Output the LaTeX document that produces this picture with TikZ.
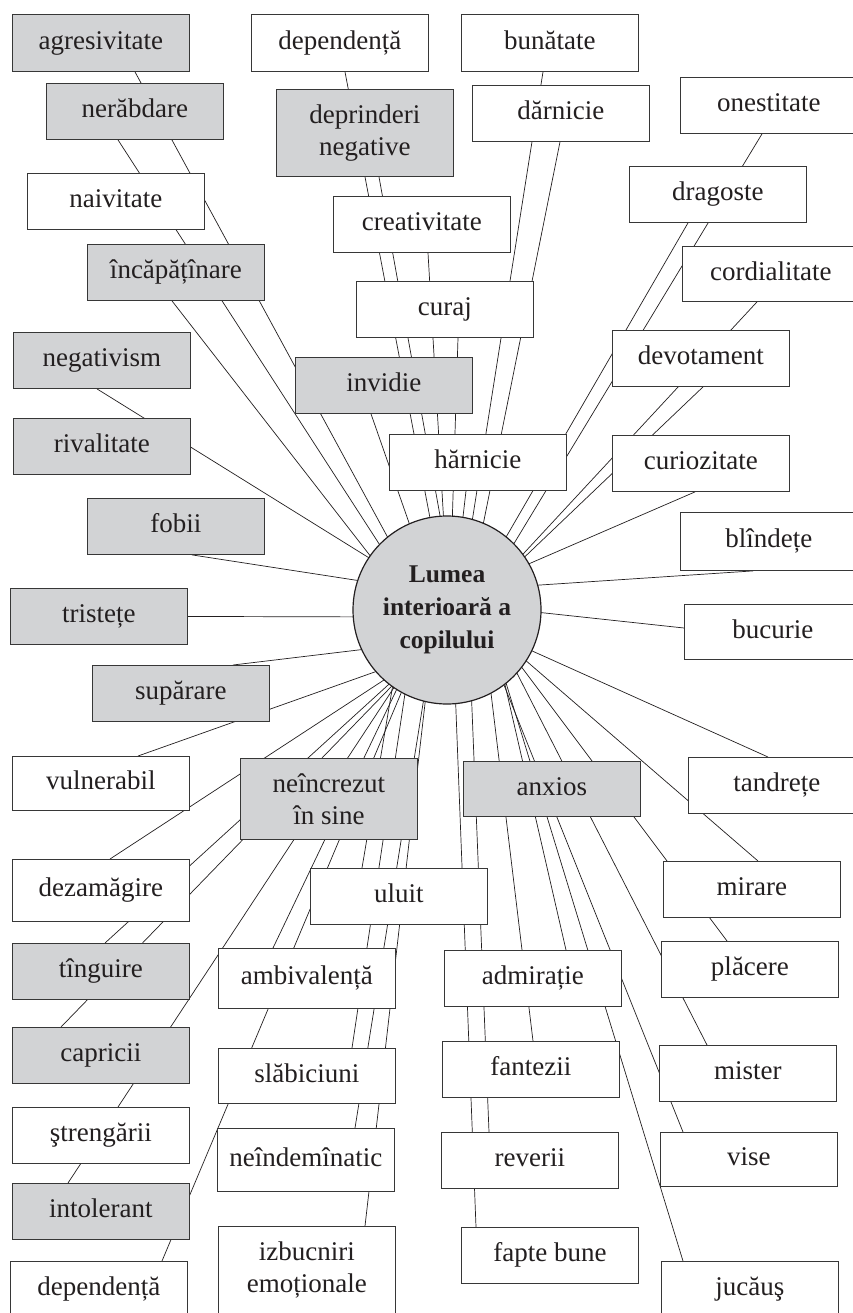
\documentclass[tikz,border=0pt]{standalone}
\usepackage{fontspec}
\setmainfont{Liberation Serif}
\usetikzlibrary{backgrounds}
\definecolor{boxgray}{RGB}{210,211,213}
\definecolor{ink}{RGB}{35,31,32}
\definecolor{edge}{RGB}{55,55,55}
\begin{document}
\begin{tikzpicture}[x=1pt,y=-1pt,
  basebox/.style={draw=edge, line width=0.9pt, anchor=north west,
    minimum width=177pt, minimum height=56pt, inner sep=0pt, text=ink,
    font=\fontsize{27}{32}\selectfont},
  wbox/.style={basebox, fill=white, text height=18.4pt, text depth=6pt},
  gbox/.style={basebox, fill=boxgray, text height=18.4pt, text depth=6pt},
  wtwo/.style={basebox, fill=white, align=center},
  gtwo/.style={basebox, fill=boxgray, align=center},
  spoke/.style={draw=ink, line width=0.7pt}]
\useasboundingbox (0,0) rectangle (853,1313);
\clip (0,0) rectangle (853,1313);

% central circle
\node[circle, fill=boxgray, draw=ink, line width=1.2pt, minimum size=188pt,
  inner sep=0pt, align=center, text=ink,
  font=\bfseries\fontsize{25.5}{33}\selectfont] (hub) at (447,610)
  {Lumea\\interioară a\\copilului};

% left column
\node[gbox, minimum height=57pt] (agr) at (12,14) {agresivitate};
\node[gbox] (ner) at (46,83) {nerăbdare};
\node[wbox] (naiv) at (27,173) {naivitate};
\node[gbox] (inc) at (87,244) {încăpățînare};
\node[gbox] (negv) at (13,332) {negativism};
\node[gbox] (rival) at (13,418) {rivalitate};
\node[gbox] (fobii) at (87,498) {fobii};
\node[gbox] (trist) at (10,588) {tristețe};
\node[gbox] (supar) at (92,665) {supărare};
\node[wbox, minimum height=54pt] (vuln) at (12,756) {vulnerabil};
\node[wbox, minimum height=62pt] (dezam) at (12,859) {dezamăgire};
\node[gbox] (tingu) at (12,943) {tînguire};
\node[gbox] (capr) at (12,1027) {capricii};
\node[wbox] (streng) at (12,1107) {ştrengării};
\node[gbox] (intol) at (12,1183) {intolerant};
\node[wbox] (depB) at (10,1261) {dependență};

% middle
\node[wbox, minimum height=57pt] (depT) at (251,14) {dependență};
\node[gtwo, minimum height=87pt] (depr) at (276,89) {deprinderi\\negative};
\node[wbox] (creat) at (333,196) {creativitate};
\node[wbox] (curaj) at (356,281) {curaj};
\node[gbox] (invid) at (295,357) {invidie};
\node[wbox] (harn) at (389,434) {hărnicie};
\node[gtwo, minimum height=81pt] (neincr) at (240,758) {neîncrezut\\în sine};
\node[wbox] (uluit) at (310,868) {uluit};
\node[wbox, minimum height=60pt] (ambiv) at (218,948) {ambivalență};
\node[wbox, minimum height=55pt] (slab) at (218,1048) {slăbiciuni};
\node[wbox, minimum height=63pt] (neind) at (217,1128) {neîndemînatic};
\node[wtwo, minimum height=88pt] (izbuc) at (218,1226) {izbucniri\\emoționale};
\node[gbox, minimum height=55pt] (anx) at (463,761) {anxios};
\node[wbox] (admir) at (444,950) {admirație};
\node[wbox] (fant) at (442,1041) {fantezii};
\node[wbox] (rever) at (441,1132) {reverii};
\node[wbox] (fapte) at (461,1227) {fapte bune};

% right side
\node[wbox, minimum height=57pt] (bunat) at (461,14) {bunătate};
\node[wbox] (darn) at (472,85) {dărnicie};
\node[wbox] (onest) at (680,77) {onestitate};
\node[wbox] (drag) at (629,166) {dragoste};
\node[wbox, minimum height=55pt] (cord) at (682,246) {cordialitate};
\node[wbox] (devot) at (612,330) {devotament};
\node[wbox] (curio) at (612,435) {curiozitate};
\node[wbox, minimum height=58pt] (blind) at (680,512) {blîndețe};
\node[wbox, minimum height=55pt] (bucur) at (684,604) {bucurie};
\node[wbox] (tandr) at (688,757) {tandrețe};
\node[wbox] (mirare) at (663,861) {mirare};
\node[wbox] (placere) at (661,941) {plăcere};
\node[wbox] (mister) at (659,1045) {mister};
\node[wbox, minimum height=54pt] (vise) at (660,1132) {vise};
\node[wbox] (jucaus) at (661,1261) {jucăuş};

% spokes, drawn behind the boxes and the circle
\begin{scope}[on background layer]
\fill[white] (0,0) rectangle (853,1313);
% upper left
\draw[spoke] ([shift={(123,0)}]agr.south west) -- ([shift={(-47,-50)}]hub.center);
\draw[spoke] ([shift={(72,0)}]ner.south west) -- ([shift={(-51,-40)}]hub.center);
\draw[spoke] ([shift={(85,0)}]inc.south west) -- ([shift={(-58,-30)}]hub.center);
\draw[spoke] ([shift={(84,0)}]negv.south west) -- ([shift={(-52,-36)}]hub.center);
\draw[spoke] ([shift={(105,0)}]fobii.south west) -- ([shift={(-47,-23)}]hub.center);
\draw[spoke] (trist.east) -- ([shift={(-47,7)}]hub.center);
\draw[spoke] ([shift={(76,0)}]invid.south west) -- ([shift={(-25,-50)}]hub.center);
% upper middle
\draw[spoke] ([shift={(94,0)}]depT.south west) -- ([shift={(-9,-50)}]hub.center);
\draw[spoke] ([shift={(103,0)}]depr.south west) -- ([shift={(1,-50)}]hub.center);
\draw[spoke] ([shift={(95,0)}]creat.south west) -- ([shift={(-1,-50)}]hub.center);
\draw[spoke] ([shift={(102,0)}]curaj.south west) -- ([shift={(4,-50)}]hub.center);
\draw[spoke] ([shift={(77,0)}]harn.south west) -- ([shift={(11,-50)}]hub.center);
\draw[spoke] ([shift={(82,0)}]bunat.south west) -- ([shift={(19,-50)}]hub.center);
\draw[spoke] ([shift={(88,0)}]darn.south west) -- ([shift={(29,-50)}]hub.center);
% upper right
\draw[spoke] ([shift={(82,0)}]onest.south west) -- ([shift={(57,-50)}]hub.center);
\draw[spoke] ([shift={(59,0)}]drag.south west) -- ([shift={(40,-40)}]hub.center);
\draw[spoke] ([shift={(75,0)}]cord.south west) -- ([shift={(52,-30)}]hub.center);
\draw[spoke] ([shift={(91,0)}]devot.south west) -- ([shift={(43,-20)}]hub.center);
\draw[spoke] ([shift={(83,0)}]curio.south west) -- ([shift={(33,-25)}]hub.center);
\draw[spoke] ([shift={(73,0)}]blind.south west) -- ([shift={(33,-21)}]hub.center);
\draw[spoke] ([shift={(0,24)}]bucur.north west) -- ([shift={(33,-4)}]hub.center);
% lower left
\draw[spoke] ([shift={(141,0)}]supar.north west) -- ([shift={(-47,35)}]hub.center);
\draw[spoke] ([shift={(126,0)}]vuln.north west) -- ([shift={(-47,53)}]hub.center);
\draw[spoke] ([shift={(98,0)}]dezam.north west) -- ([shift={(-37,53)}]hub.center);
\draw[spoke] ([shift={(93,0)}]tingu.north west) -- ([shift={(-37,55)}]hub.center);
\draw[spoke] ([shift={(49,0)}]capr.north west) -- ([shift={(-27,47)}]hub.center);
\draw[spoke] ([shift={(56,0)}]intol.north west) -- ([shift={(-27,38)}]hub.center);
\draw[spoke] ([shift={(152,0)}]depB.north west) -- ([shift={(-32,50)}]hub.center);
% lower middle
\draw[spoke] ([shift={(147,0)}]izbuc.north west) -- ([shift={(-17,50)}]hub.center);
\draw[spoke] ([shift={(138,0)}]neind.north west) -- ([shift={(-17,50)}]hub.center);
\draw[spoke] ([shift={(134,0)}]slab.north west) -- ([shift={(-37,50)}]hub.center);
\draw[spoke] ([shift={(55,0)}]ambiv.north west) -- ([shift={(-41,60)}]hub.center);
\draw[spoke] ([shift={(52,0)}]uluit.north west) -- ([shift={(-50,50)}]hub.center);
\draw[spoke] ([shift={(15,0)}]fapte.north west) -- ([shift={(7,50)}]hub.center);
\draw[spoke] ([shift={(48,0)}]rever.north west) -- ([shift={(23,50)}]hub.center);
\draw[spoke] ([shift={(91,0)}]fant.north west) -- ([shift={(40,50)}]hub.center);
\draw[spoke] ([shift={(122,0)}]admir.north west) -- ([shift={(50,40)}]hub.center);
% lower right
\draw[spoke] ([shift={(22,0)}]jucaus.north west) -- ([shift={(52,50)}]hub.center);
\draw[spoke] ([shift={(23,0)}]vise.north west) -- ([shift={(47,50)}]hub.center);
\draw[spoke] ([shift={(48,0)}]mister.north west) -- ([shift={(53,30)}]hub.center);
\draw[spoke] ([shift={(66,0)}]placere.north west) -- ([shift={(58,35)}]hub.center);
\draw[spoke] ([shift={(95,0)}]mirare.north west) -- ([shift={(55,30)}]hub.center);
\draw[spoke] ([shift={(80,0)}]tandr.north west) -- ([shift={(43,22)}]hub.center);
\end{scope}
\end{tikzpicture}
\end{document}
